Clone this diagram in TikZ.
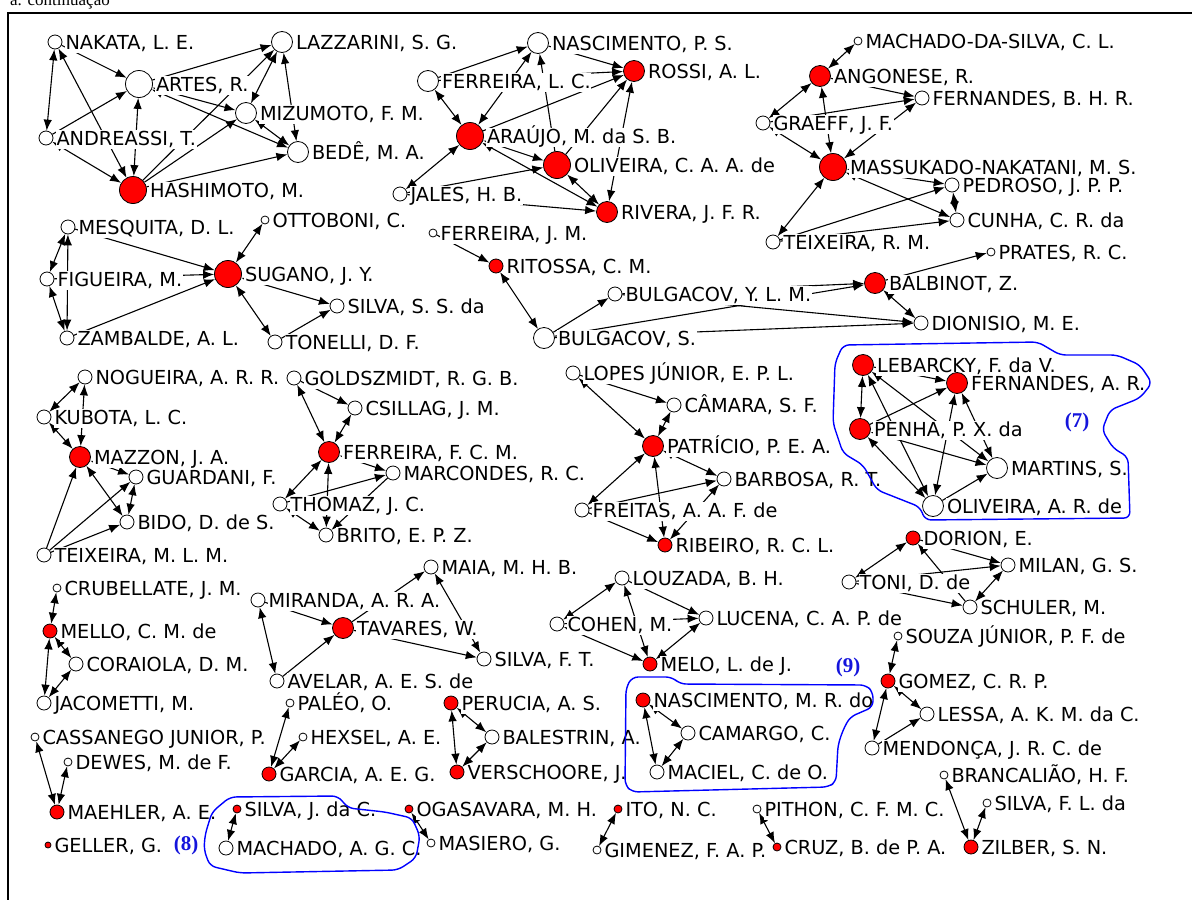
\documentclass[tikz,border=0pt]{standalone}
\usepackage{fontspec}
\setmainfont{DejaVu Sans}
\newfontfamily\serifnum{Liberation Serif}
\usetikzlibrary{arrows.meta}
\pgfdeclarelayer{bg}
\pgfsetlayers{bg,main}
\definecolor{nodered}{RGB}{255,0,0}
\definecolor{outblue}{RGB}{0,0,255}
\definecolor{numblue}{RGB}{20,20,220}
\tikzset{
 vtx/.style={circle,draw=black,line width=0.8pt,inner sep=0pt},
 wt/.style={vtx,fill=white},
 rd/.style={vtx,fill=nodered},
 szL/.style={minimum size=27pt},
 szM/.style={minimum size=21pt},
 szS/.style={minimum size=14pt},
 szT/.style={minimum size=8pt},
 szX/.style={minimum size=6pt},
 lab/.style={anchor=west,inner sep=0.6pt,fill=white,font=\fontsize{19.3}{21}\selectfont,text height=14pt,text depth=3pt,yshift=-1.5pt},
 uni/.style={-{Latex[length=11pt,width=8.5pt]},line width=1.1pt},
 bi/.style={{Latex[length=11pt,width=8.5pt]}-{Latex[length=11pt,width=8.5pt]},line width=1.1pt},
 outl/.style={draw=outblue,line width=1.4pt,rounded corners=6pt},
 numlab/.style={font=\serifnum\bfseries\fontsize{21}{22}\selectfont,text=numblue,inner sep=0pt},
}
\newcommand\Pn[5]{\node[#4] (#1) at (#2,#3) {}; \node[lab] (#1-l) at ([xshift=2.3pt]#1.east) {#5};}
\begin{document}
\begin{tikzpicture}[x=1pt,y=-1pt]
\useasboundingbox (0,0) rectangle (1192,900);
\node[anchor=base west,inner sep=0pt,font=\serifnum\fontsize{17}{18}\selectfont] (hdr) at (10,5) {a. continuação};
\draw[line width=2pt] (8,910) -- (8,13) -- (1200,13);
% cluster 1
\Pn{nak}{55}{42}{wt,szS}{NAKATA, L. E.}
\Pn{art}{139}{84}{wt,szL}{ARTES, R.}
\Pn{laz}{282}{42}{wt,szM}{LAZZARINI, S. G.}
\Pn{miz}{246}{113}{wt,szM}{MIZUMOTO, F. M.}
\Pn{and}{46}{138}{wt,szS}{ANDREASSI, T.}
\Pn{bed}{298}{152}{wt,szM}{BEDÊ, M. A.}
\Pn{has}{133}{190}{rd,szL}{HASHIMOTO, M.}
% cluster 2
\Pn{nas}{538}{43}{wt,szM}{NASCIMENTO, P. S.}
\Pn{flc}{428}{81}{wt,szM}{FERREIRA, L. C.}
\Pn{ros}{634}{71}{rd,szM}{ROSSI, A. L.}
\Pn{ara}{470}{136}{rd,szL}{ARAÚJO, M. da S. B.}
\Pn{oli}{557}{165}{rd,szL}{OLIVEIRA, C. A. A. de}
\Pn{jal}{400}{194}{wt,szS}{JALES, H. B.}
\Pn{riv}{607}{212}{rd,szM}{RIVERA, J. F. R.}
% cluster 3
\Pn{mds}{858}{41}{wt,szT}{MACHADO-DA-SILVA, C. L.}
\Pn{ang}{820}{76}{rd,szM}{ANGONESE, R.}
\Pn{fbh}{922}{98}{wt,szS}{FERNANDES, B. H. R.}
\Pn{gra}{763}{123}{wt,szS}{GRAEFF, J. F.}
\Pn{mas}{833}{167}{rd,szL}{MASSUKADO-NAKATANI, M. S.}
\Pn{ped}{952}{185}{wt,szS}{PEDROSO, J. P. P.}
\Pn{cun}{957}{220}{wt,szS}{CUNHA, C. R. da}
\Pn{trm}{773}{242}{wt,szS}{TEIXEIRA, R. M.}
% cluster 4
\Pn{mes}{68}{227}{wt,szS}{MESQUITA, D. L.}
\Pn{ott}{265}{220}{wt,szT}{OTTOBONI, C.}
\Pn{fig}{47}{279}{wt,szS}{FIGUEIRA, M.}
\Pn{sug}{228}{274}{rd,szL}{SUGANO, J. Y.}
\Pn{sss}{337}{306}{wt,szS}{SILVA, S. S. da}
\Pn{zam}{67}{338}{wt,szS}{ZAMBALDE, A. L.}
\Pn{ton}{275}{342}{wt,szS}{TONELLI, D. F.}
% cluster 5
\Pn{fjm}{433}{233}{wt,szT}{FERREIRA, J. M.}
\Pn{rit}{496}{266}{rd,szS}{RITOSSA, C. M.}
\Pn{bly}{615}{294}{wt,szS}{BULGACOV, Y. L. M.}
\Pn{bls}{544}{338}{wt,szM}{BULGACOV, S.}
\Pn{bal}{875}{283}{rd,szM}{BALBINOT, Z.}
\Pn{pra}{991}{252}{wt,szT}{PRATES, R. C.}
\Pn{dio}{921}{323}{wt,szS}{DIONISIO, M. E.}
% cluster 7
\Pn{leb}{863}{365}{rd,szM}{LEBARCKY, F. da V.}
\Pn{far}{957}{383}{rd,szM}{FERNANDES, A. R.}
\Pn{pen}{860}{429}{rd,szM}{PENHA, P. X. da}
\Pn{mar}{997}{468}{wt,szM}{MARTINS, S.}
\Pn{oar}{933}{506}{wt,szM}{OLIVEIRA, A. R. de}
% mazzon
\Pn{nog}{85}{377}{wt,szS}{NOGUEIRA, A. R. R.}
\Pn{kub}{44}{417}{wt,szS}{KUBOTA, L. C.}
\Pn{maz}{80}{457}{rd,szM}{MAZZON, J. A.}
\Pn{gua}{136}{477}{wt,szS}{GUARDANI, F.}
\Pn{bid}{127}{522}{wt,szS}{BIDO, D. de S.}
\Pn{tml}{44}{555}{wt,szS}{TEIXEIRA, M. L. M.}
% fcm
\Pn{gol}{294}{378}{wt,szS}{GOLDSZMIDT, R. G. B.}
\Pn{csi}{355}{408}{wt,szS}{CSILLAG, J. M.}
\Pn{fcm}{329}{452}{rd,szM}{FERREIRA, F. C. M.}
\Pn{mcd}{393}{473}{wt,szS}{MARCONDES, R. C.}
\Pn{tho}{280}{504}{wt,szS}{THOMAZ, J. C.}
\Pn{bri}{326}{535}{wt,szS}{BRITO, E. P. Z.}
% patricio
\Pn{lop}{573}{373}{wt,szS}{LOPES JÚNIOR, E. P. L.}
\Pn{cam}{674}{405}{wt,szS}{CÂMARA, S. F.}
\Pn{pat}{653}{446}{rd,szM}{PATRÍCIO, P. E. A.}
\Pn{bar}{724}{479}{wt,szS}{BARBOSA, R. T.}
\Pn{fre}{582}{510}{wt,szS}{FREITAS, A. A. F. de}
\Pn{rib}{665}{545}{rd,szS}{RIBEIRO, R. C. L.}
% dorion
\Pn{dor}{913}{538}{rd,szS}{DORION, E.}
\Pn{tni}{849}{582}{wt,szS}{TONI, D. de}
\Pn{mil}{1008}{565}{wt,szS}{MILAN, G. S.}
\Pn{sch}{970}{607}{wt,szS}{SCHULER, M.}
% gomez
\Pn{sou}{898}{636}{wt,szT}{SOUZA JÚNIOR, P. F. de}
\Pn{gom}{888}{681}{rd,szS}{GOMEZ, C. R. P.}
\Pn{les}{927}{714}{wt,szS}{LESSA, A. K. M. da C.}
\Pn{men}{872}{748}{wt,szS}{MENDONÇA, J. R. C. de}
% mello
\Pn{crb}{57}{588}{wt,szT}{CRUBELLATE, J. M.}
\Pn{mel}{50}{631}{rd,szS}{MELLO, C. M. de}
\Pn{cor}{76}{664}{wt,szS}{CORAIOLA, D. M.}
\Pn{jac}{44}{703}{wt,szS}{JACOMETTI, M.}
% tavares
\Pn{mai}{431}{567}{wt,szS}{MAIA, M. H. B.}
\Pn{mir}{258}{600}{wt,szS}{MIRANDA, A. R. A.}
\Pn{tav}{343}{628}{rd,szM}{TAVARES, W.}
\Pn{sft}{484}{659}{wt,szS}{SILVA, F. T.}
\Pn{ave}{277}{681}{wt,szS}{AVELAR, A. E. S. de}
% louzada
\Pn{lou}{622}{578}{wt,szS}{LOUZADA, B. H.}
\Pn{coh}{557}{624}{wt,szS}{COHEN, M.}
\Pn{luc}{706}{618}{wt,szS}{LUCENA, C. A. P. de}
\Pn{mlo}{650}{664}{rd,szS}{MELO, L. de J.}
% (9)
\Pn{nmr}{643}{700}{rd,szS}{NASCIMENTO, M. R. do}
\Pn{cmg}{688}{733}{wt,szS}{CAMARGO, C.}
\Pn{mci}{657}{772}{wt,szS}{MACIEL, C. de O.}
% bottom
\Pn{pal}{290}{703}{wt,szT}{PALÉO, O.}
\Pn{hex}{303}{737}{wt,szT}{HEXSEL, A. E.}
\Pn{gar}{269}{774}{rd,szS}{GARCIA, A. E. G.}
\Pn{per}{451}{703}{rd,szS}{PERUCIA, A. S.}
\Pn{bst}{492}{737}{wt,szS}{BALESTRIN, A.}
\Pn{ver}{457}{772}{rd,szS}{VERSCHOORE, J.}
\Pn{cas}{35}{737}{wt,szT}{CASSANEGO JUNIOR, P.}
\Pn{dew}{68}{762}{wt,szT}{DEWES, M. de F.}
\Pn{mae}{57}{812}{rd,szS}{MAEHLER, A. E.}
\Pn{gel}{48}{845}{rd,szX}{GELLER, G.}
\Pn{sjc}{237}{809}{rd,szT}{SILVA, J. da C.}
\Pn{mac}{226}{848}{wt,szS}{MACHADO, A. G. C.}
\Pn{oga}{409}{809}{rd,szT}{OGASAVARA, M. H.}
\Pn{msr}{431}{843}{wt,szT}{MASIERO, G.}
\Pn{ito}{618}{809}{rd,szT}{ITO, N. C.}
\Pn{gim}{597}{850}{wt,szT}{GIMENEZ, F. A. P.}
\Pn{pit}{757}{809}{wt,szT}{PITHON, C. F. M. C.}
\Pn{crz}{777}{847}{rd,szT}{CRUZ, B. de P. A.}
\Pn{bra}{944}{775}{wt,szT}{BRANCALIÃO, H. F.}
\Pn{sfl}{987}{803}{wt,szT}{SILVA, F. L. da}
\Pn{zil}{971}{847}{rd,szS}{ZILBER, S. N.}
% group numbers
\node[numlab] (n7) at (1077,422) {(7)};
\node[numlab] (n8) at (186,845) {(8)};
\node[numlab] (n9) at (848,667) {(9)};
\begin{pgfonlayer}{bg}
\foreach \a/\b in {nak/and,nak/has,and/has,art/has,miz/laz,laz/bed,art/miz,art/bed,miz/bed,
 flc/ara,nas/ara,ara/oli,ara/riv,jal/ara,oli/riv,ros/riv,
 ang/mds,gra/ang,gra/mas,ang/mas,mas/ped,mas/cun,ped/cun,trm/mas,mas/fbh,
 mes/fig,zam/mes,fig/zam,sug/ott,sug/sss,sug/ton,
 rit/bls,bal/dio,
 leb/pen,leb/oar,leb/mar,pen/oar,pen/mar,far/oar,far/mar,
 kub/nog,maz/nog,kub/maz,maz/gua,maz/bid,gua/bid,
 gol/fcm,csi/fcm,fcm/mcd,tho/fcm,bri/fcm,tho/bri,
 lop/pat,cam/pat,pat/bar,fre/pat,rib/pat,bar/rib,
 tni/dor,mil/sch,
 sou/gom,gom/les,gom/men,
 crb/mel,mel/cor,mel/jac,jac/cor,
 mir/ave,mai/sft,
 coh/lou,mlo/lou,luc/mlo,coh/mlo,
 nmr/cmg,nmr/mci,mci/cmg,
 gar/pal,gar/hex,per/bst,per/ver,ver/bst,cas/mae,dew/mae,
 sjc/mac,oga/msr,ito/gim,pit/crz,bra/zil,sfl/zil}
 \draw[bi] (\a) -- (\b);
\foreach \a/\b in {nak/art,and/art,art/laz,has/laz,has/miz,has/bed,
 flc/nas,oli/nas,nas/ros,flc/ros,ara/ros,oli/ros,jal/oli,jal/riv,
 ang/fbh,gra/fbh,trm/ped,trm/cun,
 mes/sug,fig/sug,zam/sug,ton/sss,
 fjm/rit,bls/bly,bly/bal,bls/bal,bly/dio,bls/dio,bal/pra,
 leb/far,pen/far,oar/mar,
 tml/maz,tml/gua,tml/bid,
 gol/csi,tho/mcd,mcd/bri,
 lop/cam,fre/bar,fre/rib,
 sch/dor,dor/mil,tni/sch,tni/mil,
 men/les,
 mir/tav,ave/tav,tav/mai,tav/sft,
 coh/luc,lou/luc}
 \draw[uni] (\a) -- (\b);
\end{pgfonlayer}
% outlines
\draw[outl] (835,363) -- (843,345) -- (1038,342) -- (1060,355) -- (1117,355) -- (1140,365) -- (1152,383) -- (1140,398) -- (1110,410) -- (1102,430) -- (1113,448) -- (1128,457) -- (1130,518) -- (925,520) -- (920,507) -- (877,490) -- (863,465) -- (843,453) -- (833,423) -- cycle;
\draw[outl] (626,688) -- (632,677) -- (672,677) -- (680,684) -- (866,685) -- (873,692) -- (873,707) -- (850,717) -- (843,730) -- (838,745) -- (836,782) -- (828,787) -- (632,792) -- (625,785) -- cycle;
\draw[outl] (205,835) -- (212,812) -- (230,797) -- (338,796) -- (348,808) -- (385,812) -- (412,818) -- (420,836) -- (416,858) -- (398,870) -- (240,873) -- (210,866) -- (204,850) -- cycle;
\end{tikzpicture}
\end{document}
